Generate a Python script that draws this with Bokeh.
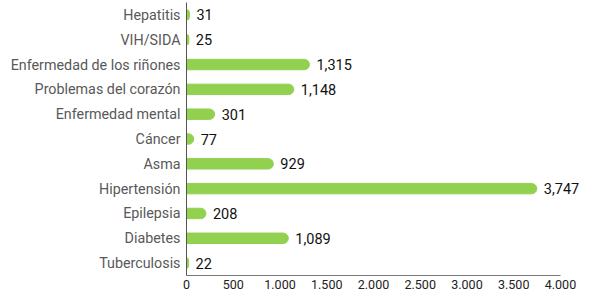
from bokeh.plotting import figure
from bokeh.models import FactorRange, Range1d, ColumnDataSource, LabelSet, CustomJSTickFormatter, FixedTicker
from bokeh.core.properties import value
from bokeh.embed import file_html
from bokeh.resources import INLINE

categories = ["Hepatitis", "VIH/SIDA", "Enfermedad de los riñones", "Problemas del corazón",
              "Enfermedad mental", "Cáncer", "Asma", "Hipertensión", "Epilepsia",
              "Diabetes", "Tuberculosis"]
values = [31, 25, 1315, 1148, 301, 77, 929, 3747, 208, 1089, 22]
value_labels = ["31", "25", "1,315", "1,148", "301", "77", "929", "3,747", "208", "1,089", "22"]
x_ticks = [0, 500, 1000, 1500, 2000, 2500, 3000, 3500, 4000]

src = ColumnDataSource(dict(cat=categories, val=values, lab=value_labels))

p = figure(y_range=FactorRange(*reversed(categories), range_padding=0),
           x_range=Range1d(0, 4225),
           width=581, height=291, output_backend="svg", toolbar_location=None,
           min_border_left=186, min_border_right=0, min_border_top=2, min_border_bottom=0)

p.hbar(y="cat", left=0, right="val", height=0.42, source=src, color="#92D050",
       border_radius=(0, 6, 6, 0))

labels = LabelSet(x="val", y="cat", text="lab", source=src, x_offset=7,
                  text_baseline="middle", text_font=value("Roboto"), text_font_size="14.5px",
                  text_color="#111111")
p.add_layout(labels)

p.outline_line_color = None
p.xgrid.grid_line_color = None
p.ygrid.grid_line_color = None

p.xaxis.bounds = (0, 4000)
p.xaxis.ticker = FixedTicker(ticks=x_ticks)
p.xaxis.formatter = CustomJSTickFormatter(code="return tick.toFixed(0).replace(/\\B(?=(\\d{3})+(?!\\d))/g, '.');")
p.xaxis.major_tick_line_color = None
p.xaxis.major_tick_out = 0
p.xaxis.major_tick_in = 0
p.xaxis.minor_tick_line_color = None
p.xaxis.axis_line_color = "#777777"
p.xaxis.major_label_text_font = "Roboto"
p.xaxis.major_label_text_font_size = "12.5px"
p.xaxis.major_label_text_color = "#222222"
p.xaxis.major_label_standoff = 4

p.yaxis.major_tick_line_color = None
p.yaxis.major_tick_out = 0
p.yaxis.major_tick_in = 0
p.yaxis.minor_tick_line_color = None
p.yaxis.axis_line_color = "#555555"
p.yaxis.major_label_text_font = "Roboto"
p.yaxis.major_label_text_font_size = "14.3px"
p.yaxis.major_label_text_color = "#595959"
p.yaxis.major_label_standoff = 6

open("out.html", "w").write(file_html(p, INLINE))
